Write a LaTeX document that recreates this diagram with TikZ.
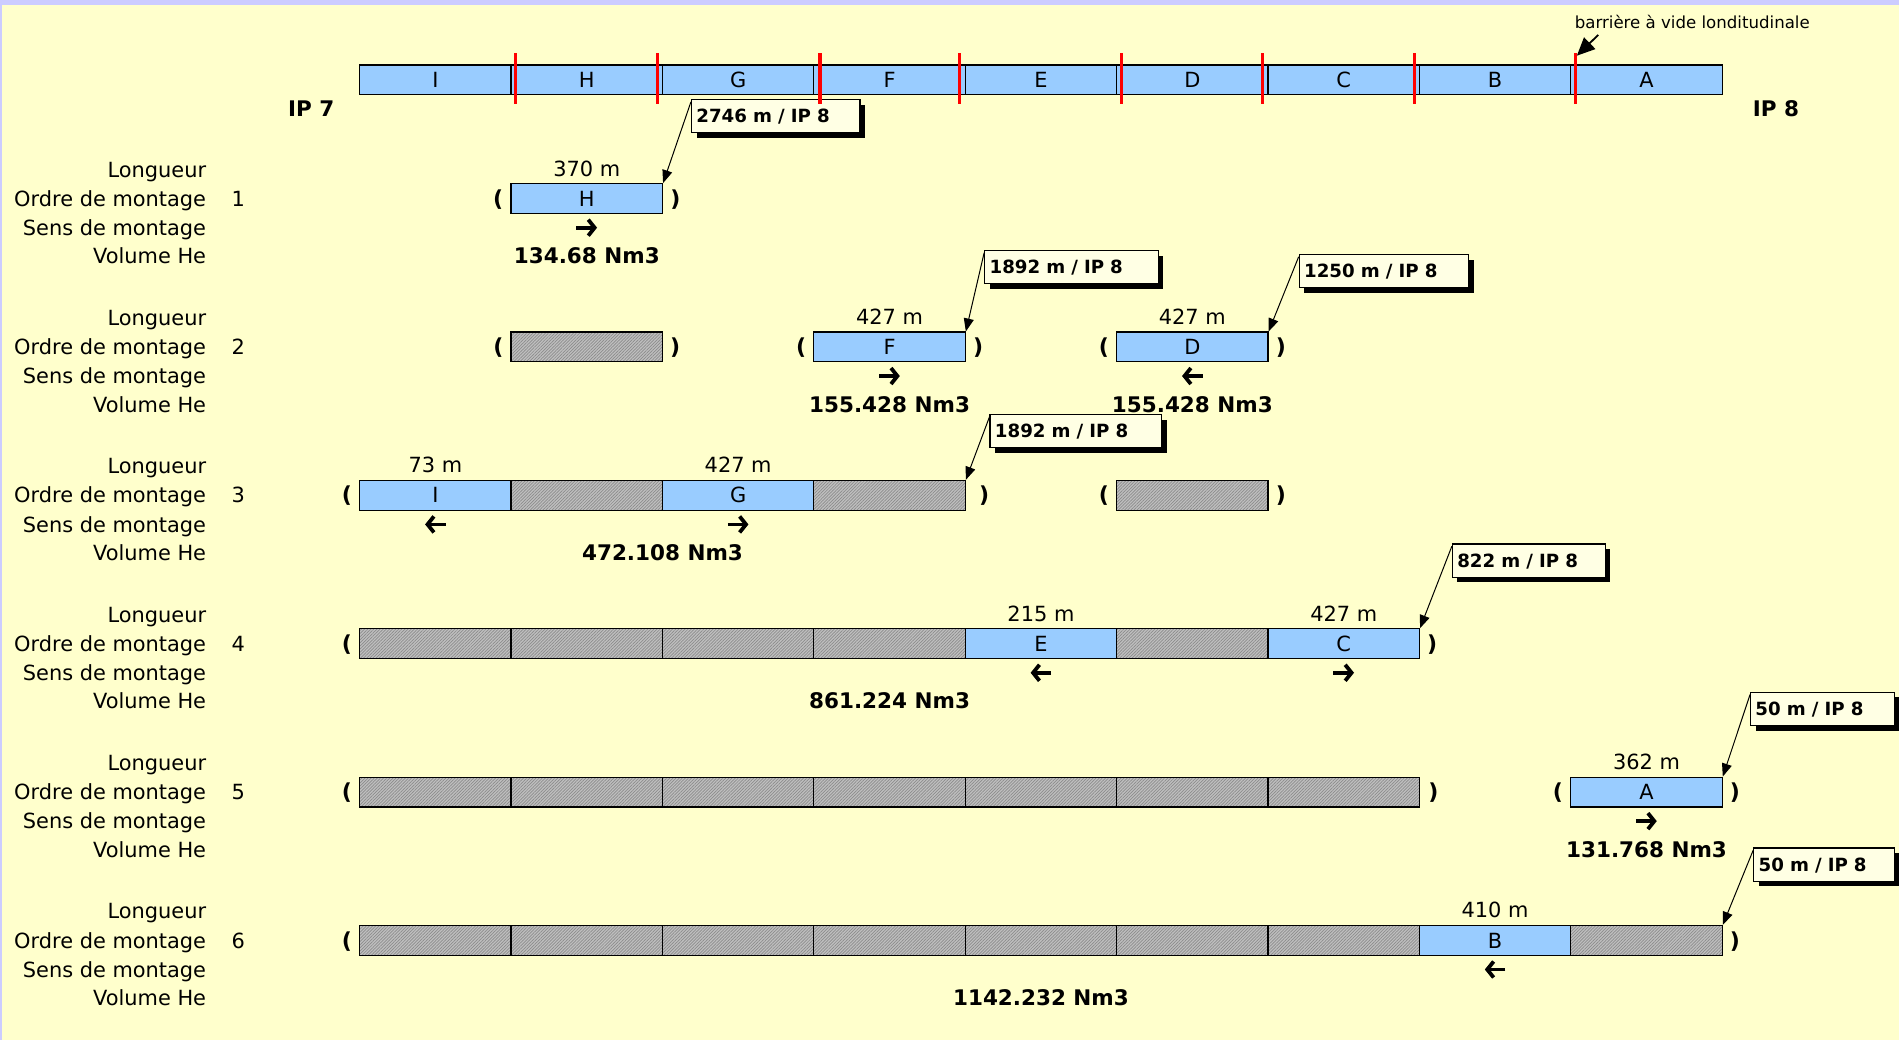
\documentclass[tikz,border=0pt]{standalone}
\usepackage{fontspec}
\setmainfont{DejaVu Sans}
\usetikzlibrary{positioning,arrows.meta,patterns.meta,shadows}

\definecolor{bgyellow}{RGB}{255,255,204}
\definecolor{framelav}{RGB}{204,204,255}
\definecolor{segblue}{RGB}{153,204,255}
\definecolor{notefill}{RGB}{255,255,228}

\begin{document}
\begin{tikzpicture}
  [
  x=0.6055pt, y=-0.6055pt,
  font=\fontsize{10.45pt}{12pt}\selectfont,
  txt/.style={inner sep=0pt, text height=7.6pt, text depth=0pt},
  rowlabel/.style={txt, anchor=east},
  volume/.style={txt, font=\fontsize{10.75pt}{12pt}\selectfont\bfseries},
  paren/.style={txt, font=\fontsize{11pt}{12pt}\selectfont\bfseries},
  segment/.style={txt, rectangle, draw=black, line width=0.6pt, fill=segblue, minimum width=75.69pt, minimum height=14.9pt},
  gapseg/.style={segment, preaction={fill=black!25}, pattern={Lines[angle=45,distance=1.1pt,line width=0.35pt]}, pattern color=black!45},
  callout/.style={draw=black, line width=0.6pt, fill=notefill, anchor=north west, align=left, inner xsep=2.42pt, inner ysep=0pt, minimum height=16.6pt, text width=#1, text height=6.6pt, text depth=0pt, font=\fontsize{9.1pt}{11pt}\selectfont\bfseries, drop shadow={shadow xshift=2.5pt, shadow yshift=-2.5pt, fill=black, opacity=1}},
  leader/.style={line width=0.5pt, -{Triangle[length=6.5pt,width=5pt]}},
  barrarrow/.style={line width=0.9pt, -{Triangle[length=9pt,width=8pt]}},
  sens/.style={line width=1.9pt, -{Straight Barb[length=3.2pt,width=8pt]}},
  redbar/.style={draw=red, line width=1.6pt}
  ]

% background
\fill[framelav] (0,0) rectangle (1568,859);
\fill[bgyellow] (2,3.8) rectangle (1568,859);
\useasboundingbox (0,0) rectangle (1568,859);

% the arc IP 7 -- IP 8
\foreach \l [count=\i from 0] in {I,H,G,F,E,D,C,B,A} {
  \node[segment] (t\l) at ({359.5+125*\i},66) {\l};
}
\node[volume] (ip7) at (257,90) {IP 7};
\node[volume] (ip8) at (1466.5,90) {IP 8};
\node[txt, font=\fontsize{8.3pt}{10pt}\selectfont, text height=6pt, anchor=south west] (barr) at (1300,24.2) {barrière à vide londitudinale};
\coordinate (vb) at (1302,46);

% row labels
\foreach \r in {1,...,6} {
  \pgfmathsetmacro{\y}{164+122.5*(\r-1)}
  \node[rowlabel] (lo\r) at (170.5,{\y-24}) {Longueur};
  \node[rowlabel] (om\r) at (170.5,\y) {Ordre de montage};
  \node[txt] (n\r) at (196.7,\y) {\r};
  \node[rowlabel] (sm\r) at (170.5,{\y+24}) {Sens de montage};
  \node[rowlabel] (vh\r) at (170.5,{\y+47.6}) {Volume He};
}

% 1
\node[segment] (r1H) at (484.5,164) {H};
\node[paren, left=3.4pt of r1H] (r1o) {(};
\node[paren, right=3.4pt of r1H] (r1c) {)};
\node[txt, above=3.3pt of r1H] (r1len) {370 m};
\node[volume] (r1vol) at (484.5,211.6) {134.68 Nm3};

% 2
\node[gapseg] (r2H) at (484.5,286.5) {};
\node[segment] (r2F) at (734.5,286.5) {F};
\node[segment] (r2D) at (984.5,286.5) {D};
\node[paren, left=3.4pt of r2H] (r2oH) {(};
\node[paren, right=3.4pt of r2H] (r2cH) {)};
\node[paren, left=3.4pt of r2F] (r2oF) {(};
\node[paren, right=3.4pt of r2F] (r2cF) {)};
\node[paren, left=3.4pt of r2D] (r2oD) {(};
\node[paren, right=3.4pt of r2D] (r2cD) {)};
\node[txt, above=3.3pt of r2F] (r2lenF) {427 m};
\node[txt, above=3.3pt of r2D] (r2lenD) {427 m};
\node[volume] (r2volF) at (734.5,334.1) {155.428 Nm3};
\node[volume] (r2volD) at (984.5,334.1) {155.428 Nm3};

% 3
\node[segment] (r3I) at (359.5,409) {I};
\node[gapseg] (r3H) at (484.5,409) {};
\node[segment] (r3G) at (609.5,409) {G};
\node[gapseg] (r3F) at (734.5,409) {};
\node[gapseg] (r3D) at (984.5,409) {};
\node[paren, left=3.4pt of r3I] (r3o) {(};
\node[paren, right=6.4pt of r3F] (r3c) {)};
\node[paren, left=3.4pt of r3D] (r3oD) {(};
\node[paren, right=3.4pt of r3D] (r3cD) {)};
\node[txt, above=3.3pt of r3I] (r3lenI) {73 m};
\node[txt, above=3.3pt of r3G] (r3lenG) {427 m};
\node[volume] (r3vol) at (547,456.6) {472.108 Nm3};

% 4
\foreach \l [count=\i from 0] in {I,H,G,F} {
  \node[gapseg] (r4\l) at ({359.5+125*\i},531.5) {};
}
\node[segment] (r4E) at (859.5,531.5) {E};
\node[gapseg] (r4D) at (984.5,531.5) {};
\node[segment] (r4C) at (1109.5,531.5) {C};
\node[paren, left=3.4pt of r4I] (r4o) {(};
\node[paren, right=3.4pt of r4C] (r4c) {)};
\node[txt, above=3.3pt of r4E] (r4lenE) {215 m};
\node[txt, above=3.3pt of r4C] (r4lenC) {427 m};
\node[volume] (r4vol) at (734.5,579.1) {861.224 Nm3};

% 5
\foreach \l [count=\i from 0] in {I,H,G,F,E,D,C} {
  \node[gapseg] (r5\l) at ({359.5+125*\i},654) {};
}
\node[segment] (r5A) at (1359.5,654) {A};
\node[paren, left=3.4pt of r5I] (r5o) {(};
\node[paren, right=4pt of r5C] (r5c) {)};
\node[paren, left=3.4pt of r5A] (r5oA) {(};
\node[paren, right=3.4pt of r5A] (r5cA) {)};
\node[txt, above=3.3pt of r5A] (r5len) {362 m};
\node[volume] (r5vol) at (1359.5,701.6) {131.768 Nm3};

% 6
\foreach \l [count=\i from 0] in {I,H,G,F,E,D,C} {
  \node[gapseg] (r6\l) at ({359.5+125*\i},776.5) {};
}
\node[segment] (r6B) at (1234.5,776.5) {B};
\node[gapseg] (r6A) at (1359.5,776.5) {};
\node[paren, left=3.4pt of r6I] (r6o) {(};
\node[paren, right=3.4pt of r6A] (r6c) {)};
\node[txt, above=3.3pt of r6B] (r6len) {410 m};
\node[volume] (r6vol) at (859.5,824.1) {1142.232 Nm3};

% sens de montage
\foreach \x/\y/\d in {484.5/188/1, 734.5/310.5/1, 984.5/310.5/-1, 359.5/433/-1, 609.5/433/1, 859.5/555.5/-1, 1109.5/555.5/1, 1359.5/678/1, 1234.5/800.5/-1} {
  \draw[sens] ({\x-8.5*\d},\y) -- ({\x+8.5*\d},\y);
}

% distances
\node[callout=79.4pt] (c1) at (570.5,81.8) {2746 m / IP 8};
\node[callout=82pt] (c2) at (812.6,206.4) {1892 m / IP 8};
\node[callout=79.9pt] (c3) at (1072.3,209.7) {1250 m / IP 8};
\node[callout=81pt] (c4) at (817,341.9) {1892 m / IP 8};
\node[callout=71.6pt] (c5) at (1198.8,448.7) {822 m / IP 8};
\node[callout=67pt] (c6) at (1445,571.2) {50 m / IP 8};
\node[callout=65.5pt] (c7) at (1447.6,699.7) {50 m / IP 8};

\draw[leader] ([yshift=-1.4pt]c1.north west) -- (r1H.north east);
\draw[leader] ([yshift=-1.4pt]c2.north west) -- (r2F.north east);
\draw[leader] ([yshift=-1.4pt]c3.north west) -- (r2D.north east);
\draw[leader] ([yshift=-1.4pt]c4.north west) -- (r3F.north east);
\draw[leader] ([yshift=-1.4pt]c5.north west) -- (r4C.north east);
\draw[leader] ([yshift=-1.4pt]c6.north west) -- (r5A.north east);
\draw[leader] ([yshift=-1.4pt]c7.north west) -- (r6A.north east);

% cuts
\foreach \x in {425.4,543,677.1,792,926.1,1042.7,1167.8,1301} {
  \draw[redbar] (\x,44) -- (\x,86);
}
\draw[barrarrow] ([xshift=11.9pt,yshift=-2.8pt]barr.south west) -- (vb);
\end{tikzpicture}
\end{document}
